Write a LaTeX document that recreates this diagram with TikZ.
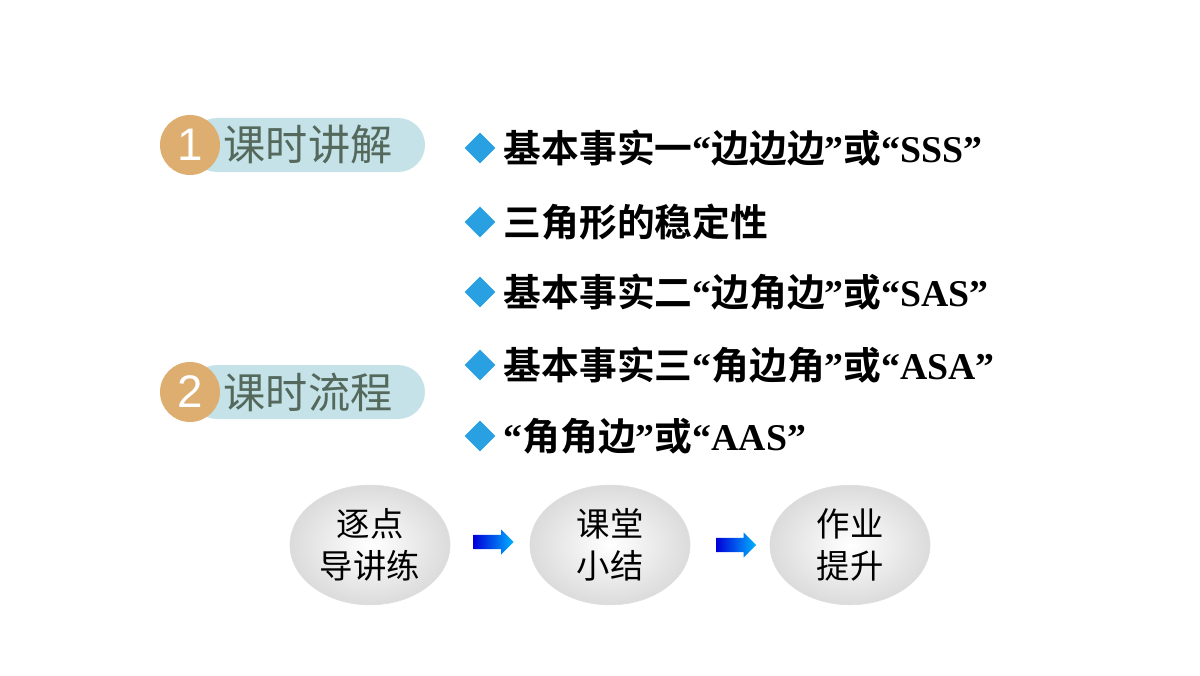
\documentclass[tikz,border=0pt]{standalone}
\usepackage{fontspec}
\usetikzlibrary{shapes.geometric,shapes.arrows}
\newfontfamily\cjk{Noto Sans CJK SC}[BoldFont={Noto Sans CJK SC Bold}]
\newfontfamily\latb{Liberation Serif}
\newfontfamily\numfont{Liberation Sans}
\newcommand{\lt}[1]{{\latb\bfseries #1}}
\definecolor{badge}{RGB}{222,174,112}
\definecolor{pill}{RGB}{196,226,232}
\definecolor{titlegray}{RGB}{84,104,92}
\definecolor{tipblue}{RGB}{40,160,225}
\begin{document}
\begin{tikzpicture}[
    badgenum/.style={circle, fill=badge, minimum size=1.2cm, inner sep=0pt,
                     text=white, font=\numfont\fontsize{26}{26}\selectfont},
    pillbox/.style={rounded corners=0.54cm, fill=pill},
    title/.style={anchor=west, text=titlegray, font=\cjk\fontsize{24}{24}\selectfont},
    tip/.style={diamond, fill=tipblue, minimum size=0.62cm, inner sep=0pt},
    item/.style={anchor=west, font=\cjk\bfseries\fontsize{21.5}{20}\selectfont},
    stepnode/.style={ellipse, draw=gray!25, minimum width=3.2cm, minimum height=2.2cm,
                     inner color=white, outer color=gray!28,
                     align=center, font=\cjk\fontsize{19}{24}\selectfont},
    flow/.style={single arrow, minimum height=0.8cm, minimum width=0.5cm,
                 single arrow head extend=0.08cm, inner sep=0.1cm,
                 left color=blue!85!black, right color=cyan!70!blue}
  ]
  \useasboundingbox (0,0) rectangle (24,13.5);
  % 标题
  \fill[pillbox] (3.8,10.06) rectangle (8.5,11.14);
  \node[badgenum] (b1) at (3.8,10.6) {1};
  \node[title] (t1) at (4.35,10.6) {课时讲解};
  \fill[pillbox] (3.8,5.12) rectangle (8.5,6.2);
  \node[badgenum] (b2) at (3.8,5.66) {2};
  \node[title] (t2) at (4.35,5.66) {课时流程};
  % 条目
  \node[tip] (d1) at (9.6,10.54) {};
  \node[item] (i1) at (9.95,10.54) {基本事实一\lt{“}边边边\lt{”}或\lt{“SSS”}};
  \node[tip] (d2) at (9.6,9.06) {};
  \node[item] (i2) at (9.95,9.06) {三角形的稳定性};
  \node[tip] (d3) at (9.6,7.66) {};
  \node[item] (i3) at (9.95,7.66) {基本事实二\lt{“}边角边\lt{”}或\lt{“SAS”}};
  \node[tip] (d4) at (9.6,6.2) {};
  \node[item] (i4) at (9.95,6.2) {基本事实三\lt{“}角边角\lt{”}或\lt{“ASA”}};
  \node[tip] (d5) at (9.6,4.78) {};
  \node[item] (i5) at (9.95,4.78) {\lt{“}角角边\lt{”}或\lt{“AAS”}};
  % 流程
  \node[stepnode] (s1) at (7.4,2.6) {逐点\\导讲练};
  \node[stepnode] (s2) at (12.2,2.6) {课堂\\小结};
  \node[stepnode] (s3) at (17,2.6) {作业\\提升};
  \node[flow] (a1) at (9.8,2.66) {};
  \node[flow] (a2) at (14.65,2.6) {};
\end{tikzpicture}
\end{document}
